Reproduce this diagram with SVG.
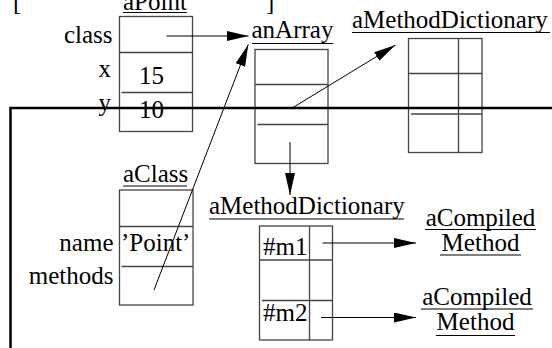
<svg xmlns="http://www.w3.org/2000/svg" width="552" height="348" viewBox="0 0 552 348">
<style>
text{font-family:"Liberation Serif","Times New Roman",serif;font-size:25px;fill:#000}
.box{fill:none;stroke:#444;stroke-width:1.3}
.div{stroke:#444;stroke-width:1.3}
.ul{stroke:#000;stroke-width:1.2}
.conn{stroke:#000;stroke-width:1;fill:none}
.frame{stroke:#000;stroke-width:2.5;fill:none}
</style>
<defs>
<marker id="ah" viewBox="0 0 22 10" refX="22" refY="5" markerWidth="22" markerHeight="10" markerUnits="userSpaceOnUse" orient="auto">
<path d="M0,0 L22,5 L0,10 Z" fill="#000"/>
</marker>
</defs>
<rect width="552" height="348" fill="#fff"/>

<g id="caption">
<text x="13" y="9.5">[</text>
<text x="266" y="9.5">]</text>
</g>

<g id="aPoint">
<text x="123" y="9.5">aPoint</text>
<line class="ul" x1="123" y1="12.5" x2="187" y2="12.5"/>
<rect class="box" x="119.5" y="16.5" width="73" height="115"/>
<line class="div" x1="119.5" y1="52.5" x2="192.5" y2="52.5"/>
<line class="div" x1="121.5" y1="92.5" x2="192.5" y2="92.5"/>
<text x="112.5" y="43" text-anchor="end">class</text>
<text x="111" y="77" text-anchor="end">x</text>
<text x="111" y="111" text-anchor="end">y</text>
<text x="139" y="84">15</text>
<text x="139" y="118">10</text>
</g>

<g id="anArray">
<text x="251.5" y="37.5">anArray</text>
<line class="ul" x1="252" y1="43.5" x2="333" y2="43.5"/>
<rect class="box" x="255" y="49.5" width="73" height="114"/>
<line class="div" x1="255" y1="84.5" x2="328" y2="84.5"/>
<line class="div" x1="257.5" y1="124.5" x2="328" y2="124.5"/>
</g>

<g id="aMethodDictionary1">
<text x="352" y="28">aMethodDictionary</text>
<line class="ul" x1="352" y1="32.5" x2="550" y2="32.5"/>
<rect class="box" x="408.5" y="38.5" width="73.5" height="114"/>
<line class="div" x1="458.5" y1="38.5" x2="458.5" y2="152.5"/>
<line class="div" x1="408.5" y1="73.5" x2="482" y2="73.5"/>
<line class="div" x1="411" y1="114" x2="482" y2="114"/>
</g>

<g id="aClass">
<text x="123" y="182">aClass</text>
<line class="ul" x1="123" y1="186" x2="187" y2="186"/>
<rect class="box" x="119.5" y="190" width="73.5" height="115"/>
<line class="div" x1="119.5" y1="226.5" x2="193" y2="226.5"/>
<line class="div" x1="121.5" y1="266.5" x2="193" y2="266.5"/>
<text x="113.5" y="251" text-anchor="end">name</text>
<text x="121" y="251">’Point’</text>
<text x="113.5" y="284" text-anchor="end">methods</text>
</g>

<g id="aMethodDictionary2">
<text x="209" y="213.5">aMethodDictionary</text>
<line class="ul" x1="209" y1="219" x2="404" y2="219"/>
<rect class="box" x="259.5" y="226" width="73" height="114"/>
<line class="div" x1="309.5" y1="226" x2="309.5" y2="340"/>
<line class="div" x1="259.5" y1="260" x2="332.5" y2="260"/>
<line class="div" x1="262" y1="300.5" x2="332.5" y2="300.5"/>
<text x="263" y="255">#m1</text>
<text x="263" y="320.5">#m2</text>
</g>

<g id="aCompiledMethod1">
<text x="480.5" y="225.5" text-anchor="middle">aCompiled</text>
<line class="ul" x1="425" y1="229.5" x2="536" y2="229.5"/>
<text x="480.5" y="250.5" text-anchor="middle">Method</text>
<line class="ul" x1="440" y1="255" x2="521" y2="255"/>
</g>

<g id="aCompiledMethod2">
<text x="477" y="305" text-anchor="middle">aCompiled</text>
<line class="ul" x1="421" y1="309" x2="533" y2="309"/>
<text x="475.5" y="330" text-anchor="middle">Method</text>
<line class="ul" x1="436" y1="335.5" x2="515" y2="335.5"/>
</g>

<g id="connectors">
<line class="conn" x1="166.5" y1="36" x2="248.5" y2="36" marker-end="url(#ah)"/>
<line class="conn" x1="154" y1="290" x2="248.3" y2="44.5" marker-end="url(#ah)"/>
<line class="conn" x1="293" y1="107.5" x2="395.5" y2="45" marker-end="url(#ah)"/>
<line class="conn" x1="290" y1="142" x2="290" y2="195" marker-end="url(#ah)"/>
<line class="conn" x1="322.5" y1="243" x2="416" y2="243" marker-end="url(#ah)"/>
<line class="conn" x1="321" y1="317.5" x2="416" y2="317.5" marker-end="url(#ah)"/>
</g>

<g id="frame">
<polyline class="frame" points="10.5,348 10.5,108 552,108"/>
</g>
</svg>
